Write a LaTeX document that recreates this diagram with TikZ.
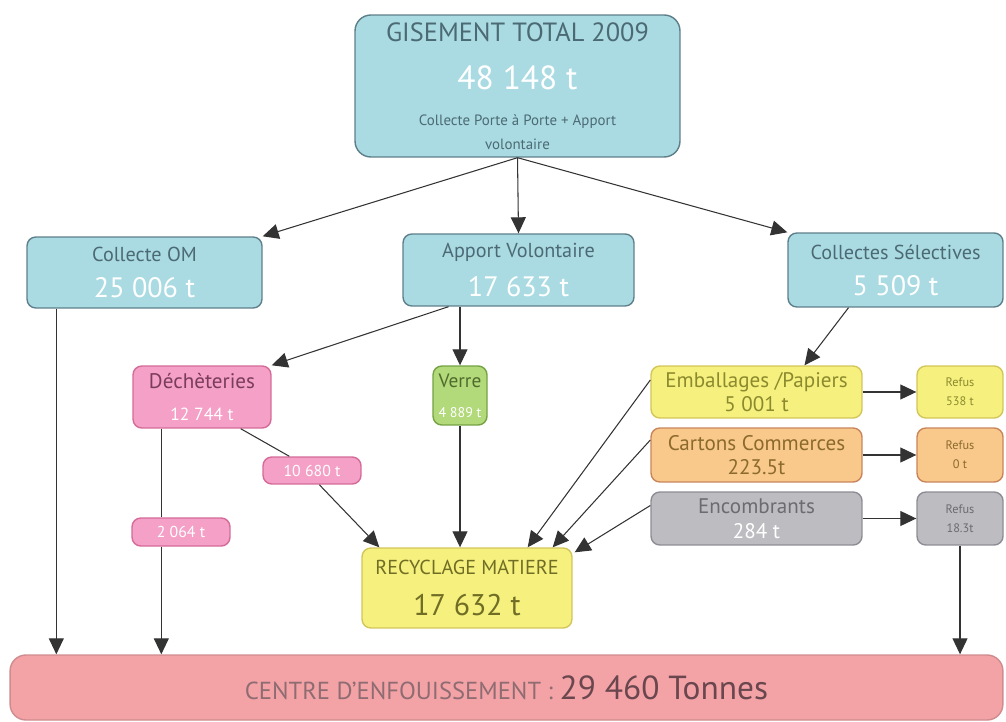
\documentclass[tikz,border=0pt]{standalone}
\usepackage{fontspec}
\setmainfont{PT Sans}
\usepackage{xcolor}
\usetikzlibrary{positioning,calc,arrows.meta}

\definecolor{bluefill}{HTML}{AADBE3}
\definecolor{blueline}{HTML}{5E7F8A}
\definecolor{bluetext}{HTML}{4C6A74}
\definecolor{pinkfill}{HTML}{F5A0C6}
\definecolor{pinkline}{HTML}{D46A98}
\definecolor{pinktext}{HTML}{7A3D5A}
\definecolor{greenfill}{HTML}{B2D97A}
\definecolor{greenline}{HTML}{74A244}
\definecolor{greentext}{HTML}{4F6B2C}
\definecolor{yelfill}{HTML}{F6F07E}
\definecolor{yelline}{HTML}{D2C65A}
\definecolor{yeltext}{HTML}{8C8A2E}
\definecolor{orfill}{HTML}{F9C98C}
\definecolor{orline}{HTML}{C9845A}
\definecolor{ortext}{HTML}{8C6A2C}
\definecolor{greyfill}{HTML}{BDBDC1}
\definecolor{greyline}{HTML}{8C8C94}
\definecolor{greytext}{HTML}{6C6C70}
\definecolor{cetfill}{HTML}{F3A3A6}
\definecolor{cettext}{HTML}{8E6C72}
\definecolor{cetnum}{HTML}{6A474E}

\newcommand{\fsz}[1]{\fontsize{#1}{#1}\selectfont}

\begin{document}
\begin{tikzpicture}[x=0.02cm, y=-0.02cm,
    box/.style={draw, line width=0.8pt, rounded corners=5pt, align=center, inner sep=0pt},
    blu/.style={box, draw=blueline, fill=bluefill, text=bluetext, font=\fsz{11.5}},
    pnk/.style={box, draw=pinkline, fill=pinkfill, text=pinktext, font=\fsz{12}},
    grn/.style={box, draw=greenline, fill=greenfill, text=greentext, font=\fsz{11}},
    yel/.style={box, draw=yelline, fill=yelfill, text=yeltext, font=\fsz{12}},
    org/.style={box, draw=orline, fill=orfill, text=ortext, font=\fsz{12}},
    gry/.style={box, draw=greyline, fill=greyfill, text=greytext, font=\fsz{12}},
    refus/.style={minimum width=1.72cm, font=\fsz{7}},
    lnk/.style={line width=0.6pt, draw=black!80},
    arr/.style={lnk, -{Triangle[length=3.2mm,width=3mm]}}
]
\useasboundingbox (0,0) rectangle (1006,722);

% ---- gisement ----
\node[blu, rounded corners=9pt, minimum width=6.5cm, minimum height=2.84cm] (tot) at (517.5,86)
  {\fsz{15}GISEMENT TOTAL 2009\\[13pt]
   \textcolor{white}{\fsz{19}48 148 t}\\[9pt]
   \fsz{8.5}Collecte Porte à Porte + Apport\\[2pt] \fsz{8.5}volontaire};

% ---- collectes ----
\node[blu, minimum width=4.7cm, minimum height=1.42cm] (om) at (144.5,272.5)
  {Collecte OM\\[8pt] \textcolor{white}{\fsz{16}25 006 t}};
\node[blu, minimum width=4.62cm, minimum height=1.44cm] (av) at (518.5,270)
  {Apport Volontaire\\[8pt] \textcolor{white}{\fsz{16}17 633 t}};
\node[blu, minimum width=4.3cm, minimum height=1.48cm] (cs) at (895.5,270)
  {Collectes Sélectives\\[8pt] \textcolor{white}{\fsz{16}5 509 t}};

% ---- apport volontaire ----
\node[pnk, minimum width=2.76cm, minimum height=1.24cm] (dech) at (202,397)
  {Déchèteries\\[6pt] \textcolor{white}{\fsz{10}12 744 t}};
\node[grn, minimum width=1.08cm, minimum height=1.18cm] (verre) at (460,395.5)
  {Verre\\[6pt] \textcolor{white}{\fsz{8}4 889 t}};
\node[pnk, minimum width=1.96cm, minimum height=0.54cm, font=\fsz{9}, text=white] (p1) at (312,470.5) {10 680 t};
\node[pnk, minimum width=1.96cm, minimum height=0.56cm, font=\fsz{9}, text=white] (p2) at (181,532) {2 064 t};

% ---- collectes selectives ----
\node[yel, minimum width=4.22cm, minimum height=1.04cm] (emb) at (756.5,392) {Emballages /Papiers\\[2pt] 5 001 t};
\node[org, minimum width=4.22cm, minimum height=1.08cm] (cart) at (756.5,455) {Cartons Commerces\\[2pt] 223.5t};
\node[gry, minimum width=4.22cm, minimum height=1.06cm] (enc) at (756.5,518.5) {Encombrants\\[2pt] \textcolor{white}{284 t}};
\node[yel, refus, minimum height=1.04cm] (r1) at (960,392) {Refus\\[4pt] 538 t};
\node[org, refus, minimum height=1.08cm] (r2) at (960,455) {Refus\\[4pt] 0 t};
\node[gry, refus, minimum height=1.06cm] (r3) at (960,518.5) {Refus\\[4pt] 18.3t};

% ---- destinations ----
\node[yel, minimum width=4.2cm, minimum height=1.6cm, text=yeltext!80!black] (rec) at (467,588)
  {\fsz{11.5}RECYCLAGE MATIERE\\[10pt] \fsz{17}17 632 t};
\node[box, draw=cetfill!85!black, fill=cetfill, rounded corners=9pt, minimum width=19.86cm, minimum height=1.3cm] (cet) at (506.5,687.5)
  {\textcolor{cettext}{\fsz{14}CENTRE D'ENFOUISSEMENT : }\textcolor{cetnum}{\fsz{19}29 460 Tonnes}};

% start points of the vertical drops
\coordinate (omx) at ($(om.south west)+(30,0)$);
\coordinate (dechx) at ($(dech.south west)+(29,0)$);

% Relations
\draw[arr] (tot.south) -- (om.north east);
\draw[arr] (tot.south) -- (av.north);
\draw[arr] (tot.south) -- (cs.north west);

\draw[arr] (omx) -- (omx |- cet.north);
\draw[arr] ($(av.south)+(-70,0)$) -- (dech.north east);
\draw[arr] (verre.north |- av.south) -- (verre.north);
\draw[arr] ($(cs.south)+(-47,0)$) -- ($(emb.north)+(48,0)$);

\draw[lnk] (dechx) -- (dechx |- p2.north);
\draw[arr] (dechx |- p2.south) -- (dechx |- cet.north);
\draw[lnk] ($(dech.south east)+(-31,0)$) -- ($(p1.north west)+(27,0)$);
\draw[arr] ($(p1.south west)+(57,0)$) -- ($(rec.north west)+(18,0)$);
\draw[arr] (verre.south) -- (verre.south |- rec.north);

\draw[arr] ($(emb.west)+(0,-12)$) -- ($(rec.north east)+(-45,0)$);
\draw[arr] ($(cart.west)+(0,-15)$) -- ($(rec.north east)+(-20,0)$);
\draw[arr] ($(enc.west)+(0,-13)$) -- ($(rec.north east)+(2,5)$);

\draw[arr] (emb.east) -- (r1.west);
\draw[arr] (cart.east) -- (r2.west);
\draw[arr] (enc.east) -- (r3.west);
\draw[arr] (r3.south) -- (r3.south |- cet.north);
\end{tikzpicture}
\end{document}
